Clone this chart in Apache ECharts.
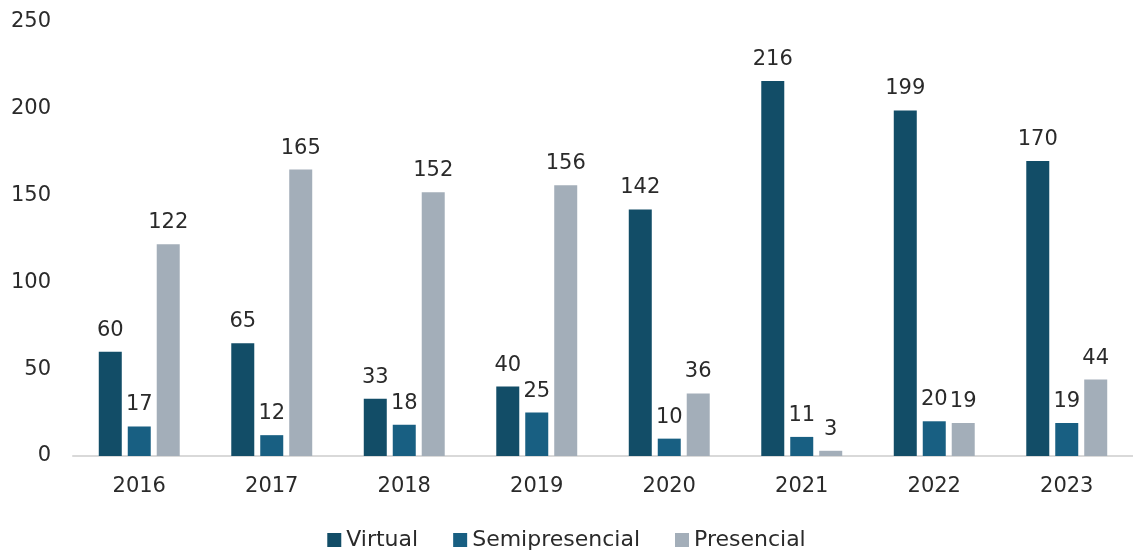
<!DOCTYPE html>
<html><head><meta charset="utf-8">
<script src="https://cdn.jsdelivr.net/npm/echarts@6/dist/echarts.min.js"></script>
<style>html,body{margin:0;padding:0;background:#fff}#c{width:1133px;height:552px}</style>
</head><body><div id="c"></div>
<script>
const categories = ['2016','2017','2018','2019','2020','2021','2022','2023'];
const virtual = [60, 65, 33, 40, 142, 216, 199, 170];
const semipresencial = [17, 12, 18, 25, 10, 11, 20, 19];
const presencial = [122, 165, 152, 156, 36, 3, 19, 44];
const yTicks = {min: 0, max: 250, interval: 50};

const FONT = '"DejaVu Sans", sans-serif';
const TXT = '#2a2a2a';
const label = {show: true, position: 'top', distance: 11, color: TXT, fontSize: 21, fontFamily: FONT};
function mk(name, data, color) {
  return {name, type: 'bar', data, barWidth: 23, barGap: '26%', itemStyle: {color}, label};
}
const chart = echarts.init(document.getElementById('c'));
chart.setOption({
  animation: false,
  textStyle: {fontFamily: FONT},
  grid: {left: 73, right: 0, top: 22, bottom: 96, containLabel: false},
  legend: {
    top: 524, left: 'center', itemWidth: 14, itemHeight: 14, itemGap: 35,
    icon: 'rect',
    textStyle: {color: TXT, fontSize: 22, fontFamily: FONT}
  },
  xAxis: {
    type: 'category', data: categories,
    axisLine: {lineStyle: {color: '#d9d9d9', width: 2}},
    axisTick: {show: false},
    axisLabel: {color: TXT, fontSize: 21, margin: 20, fontFamily: FONT}
  },
  yAxis: {
    type: 'value', min: yTicks.min, max: yTicks.max, interval: yTicks.interval,
    splitLine: {show: false}, axisLine: {show: false}, axisTick: {show: false},
    axisLabel: {color: TXT, fontSize: 21, margin: 22, fontFamily: FONT}
  },
  series: [
    mk('Virtual', virtual, '#124d67'),
    mk('Semipresencial', semipresencial, '#185f82'),
    mk('Presencial', presencial, '#a3aeb9')
  ]
});
</script></body></html>
